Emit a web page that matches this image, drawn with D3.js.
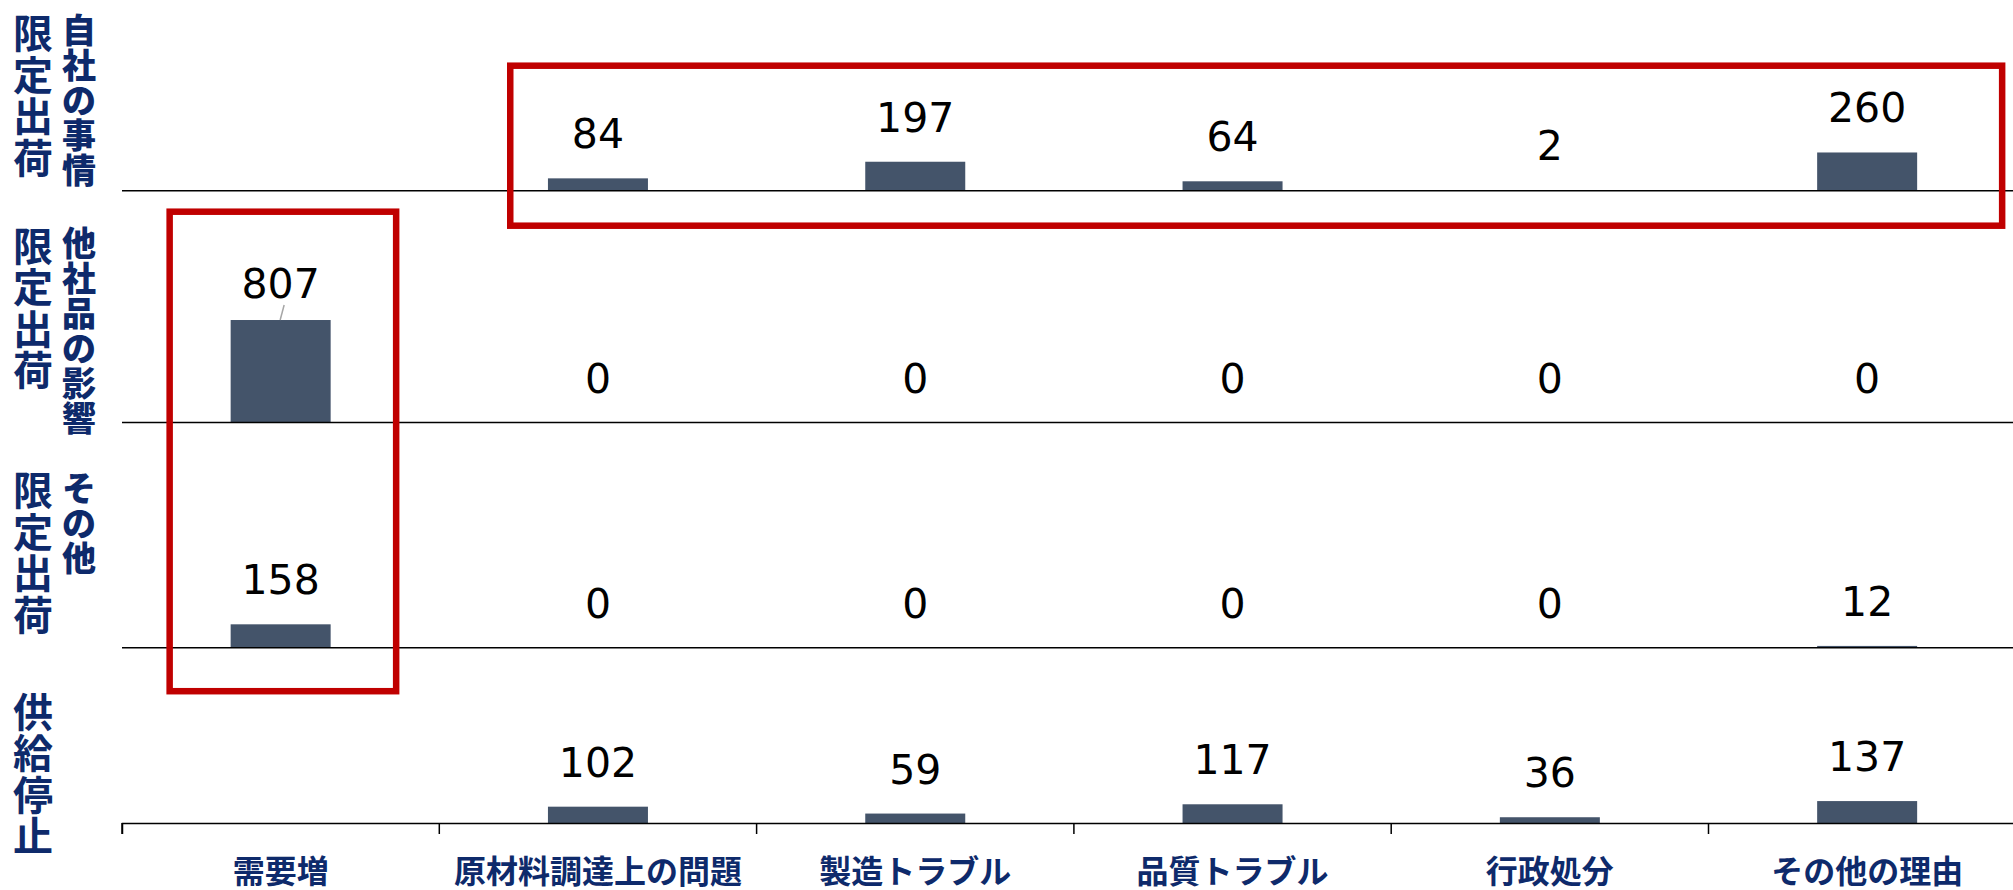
<!DOCTYPE html>
<html>
<head>
<meta charset="utf-8">
<script src="https://cdn.jsdelivr.net/npm/d3@7"></script>
<style>
  body { margin: 0; background: #fff; }
</style>
</head>
<body>
<div id="chart"></div>
<script>
// categories on the x axis
var categories = ["需要増", "原材料調達上の問題", "製造トラブル", "品質トラブル", "行政処分", "その他の理由"];

// one array per row (null = no bar / no label)
var jishaValues  = [null, 84, 197, 64, 2, 260];   // 限定出荷 自社の事情
var tashaValues  = [807, 0, 0, 0, 0, 0];          // 限定出荷 他社品の影響
var sonotaValues = [158, 0, 0, 0, 0, 12];         // 限定出荷 その他
var teishiValues = [null, 102, 59, 117, 36, 137]; // 供給停止

var rowValues = [jishaValues, tashaValues, sonotaValues, teishiValues];

// row titles (two vertical columns)
var rowMain = ["限定出荷", "限定出荷", "限定出荷", "供給停止"];
var rowSub  = ["自社の事情", "他社品の影響", "その他", ""];

//Width and height
var w = 2013;
var h = 890;
var barW = 100;
var navy = "#0E2A6B";
var barColor = "#44546A";

// layout of the rows
var baselines = [190.7, 422.5, 647.7, 823];
var pxPer1000 = [147, 127, 148, 160];
var mainCenter = [93.5, 306, 550.5, 772];
var subCenter = [97.5, 328.5, 520.5, 0];

//Create scaled x (band boundaries = tick positions)
var xScale = d3.scaleBand()
  .domain(categories)
  .range([122, 122 + 6 * 317.3])
  .padding(0);

function cx(c) { return xScale(c) + xScale.bandwidth() / 2; }

var svg = d3.select("#chart")
  .append("svg")
  .attr("width", w)
  .attr("height", h);

svg.append("rect").attr("width", w).attr("height", h).attr("fill", "#fff");

rowValues.forEach(function(vals, r) {
  var yScale = d3.scaleLinear()
    .domain([0, 1000])
    .range([baselines[r], baselines[r] - pxPer1000[r]]);

  var data = categories.map(function(c, i) { return { cat: c, v: vals[i] }; })
    .filter(function(d) { return d.v !== null; });

  var g = svg.append("g").attr("class", "row" + r);

  g.selectAll(".bar")
    .data(data)
    .enter()
    .append("rect")
    .attr("class", "bar")
    .attr("x", function(d) { return cx(d.cat) - barW / 2; })
    .attr("y", function(d) { return yScale(d.v); })
    .attr("width", barW)
    .attr("height", function(d) { return baselines[r] - yScale(d.v); })
    .attr("fill", barColor);

  // value labels (807 was nudged down in the original, with a leader line)
  g.selectAll(".val")
    .data(data)
    .enter()
    .append("text")
    .attr("class", "val")
    .attr("x", function(d) { return cx(d.cat); })
    .attr("y", function(d) { return yScale(d.v) - (d.v === 807 ? 22 : 30); })
    .attr("text-anchor", "middle")
    .attr("font-family", "'DejaVu Sans', Verdana, sans-serif")
    .attr("font-size", "41px")
    .attr("fill", "#000")
    .text(function(d) { return d.v; });

  g.selectAll(".leader")
    .data(data.filter(function(d) { return d.v === 807; }))
    .enter()
    .append("line")
    .attr("x1", function(d) { return cx(d.cat) + 3.5; })
    .attr("y1", function(d) { return yScale(d.v) - 15; })
    .attr("x2", function(d) { return cx(d.cat) - 0.5; })
    .attr("y2", function(d) { return yScale(d.v); })
    .attr("stroke", "#A6A6A6")
    .attr("stroke-width", 1.5);

  // baseline of the row
  if (r < 3) {
    g.append("line")
      .attr("x1", 122)
      .attr("x2", w)
      .attr("y1", baselines[r])
      .attr("y2", baselines[r])
      .attr("stroke", "#000")
      .attr("stroke-width", 1.5);
  }

  // vertical row titles
  var main = rowMain[r].split("");
  svg.append("text")
    .attr("font-family", "'Noto Sans CJK JP', sans-serif")
    .attr("font-weight", "bold")
    .attr("font-size", "40px")
    .attr("fill", navy)
    .attr("text-anchor", "middle")
    .attr("dominant-baseline", "central")
    .selectAll("tspan")
    .data(main)
    .enter()
    .append("tspan")
    .attr("x", 33)
    .attr("y", function(d, i) { return mainCenter[r] + (i - (main.length - 1) / 2) * 41.5; })
    .text(function(d) { return d; });

  if (rowSub[r]) {
    var sub = rowSub[r].split("");
    svg.append("text")
      .attr("font-family", "'Noto Sans CJK JP', sans-serif")
      .attr("font-weight", "900")
      .attr("font-size", "34px")
      .attr("fill", navy)
      .attr("text-anchor", "middle")
      .attr("dominant-baseline", "central")
      .selectAll("tspan")
      .data(sub)
      .enter()
      .append("tspan")
      .attr("x", 79)
      .attr("y", function(d, i) { return subCenter[r] + (i - (sub.length - 1) / 2) * 35; })
      .text(function(d) { return d; });
  }
});

//Add X axis (ticks on band boundaries, labels under band centers)
var xAxis = d3.axisBottom(xScale)
  .tickSizeInner(11)
  .tickSizeOuter(11)
  .tickFormat("");

var axisG = svg.append("g")
  .attr("class", "x axis")
  .attr("transform", "translate(0," + baselines[3] + ")")
  .call(xAxis);

axisG.selectAll(".tick line")
  .attr("transform", "translate(" + (-xScale.bandwidth() / 2) + ",0)")
  .attr("stroke", "#000")
  .attr("stroke-width", 1.5);
axisG.select(".domain")
  .attr("stroke", "#000")
  .attr("stroke-width", 1.5);

svg.selectAll(".catlabel")
  .data(categories)
  .enter()
  .append("text")
  .attr("class", "catlabel")
  .attr("x", function(d) { return cx(d); })
  .attr("y", 883)
  .attr("text-anchor", "middle")
  .attr("font-family", "'Noto Sans CJK JP', sans-serif")
  .attr("font-weight", "bold")
  .attr("font-size", "32px")
  .attr("fill", navy)
  .text(function(d) { return d; });

// red highlight boxes
var boxes = [
  { x0: cx(categories[0]) - 111, x1: cx(categories[0]) + 115.5, y0: baselines[0] + 21, y1: baselines[2] + 43.5 },
  { x0: cx(categories[1]) - 87.7, x1: cx(categories[5]) + 135, y0: 65.7, y1: baselines[0] + 35 }
];

svg.selectAll(".hl")
  .data(boxes)
  .enter()
  .append("rect")
  .attr("class", "hl")
  .attr("x", function(d) { return d.x0; })
  .attr("y", function(d) { return d.y0; })
  .attr("width", function(d) { return d.x1 - d.x0; })
  .attr("height", function(d) { return d.y1 - d.y0; })
  .attr("fill", "none")
  .attr("stroke", "#C00000")
  .attr("stroke-width", 6.5);
</script>
</body>
</html>
